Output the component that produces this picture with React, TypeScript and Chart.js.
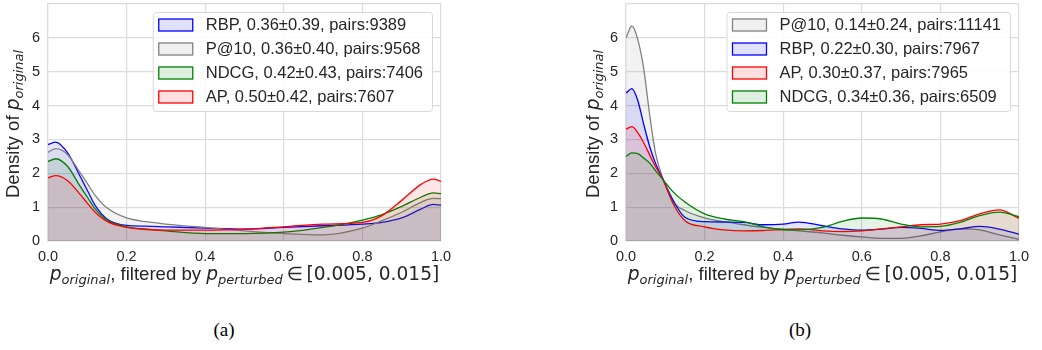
import React, { useEffect, useRef } from 'react';
import { Chart, registerables } from 'chart.js';

Chart.register(...registerables);

// ---- Panel (a): density of p_original, x grid and curve values ----
const X_A = [0, 0.02, 0.05, 0.08, 0.1, 0.12, 0.15, 0.2, 0.25, 0.3, 0.4, 0.5, 0.6, 0.7, 0.8, 0.85, 0.9, 0.95, 0.98, 1.0];
const RBP_A = [2.85, 2.92, 2.6, 1.95, 1.5, 1.05, 0.65, 0.46, 0.44, 0.42, 0.38, 0.35, 0.4, 0.45, 0.5, 0.55, 0.68, 0.95, 1.08, 1.06];
const P10_A = [2.62, 2.73, 2.55, 2.05, 1.7, 1.35, 0.98, 0.68, 0.57, 0.5, 0.4, 0.3, 0.22, 0.18, 0.38, 0.6, 0.85, 1.15, 1.26, 1.25];
const NDCG_A = [2.35, 2.43, 2.2, 1.65, 1.3, 0.95, 0.62, 0.42, 0.35, 0.3, 0.22, 0.22, 0.26, 0.4, 0.62, 0.78, 1.02, 1.3, 1.42, 1.4];
const AP_A = [1.87, 1.93, 1.78, 1.4, 1.12, 0.85, 0.58, 0.4, 0.34, 0.32, 0.32, 0.35, 0.42, 0.5, 0.55, 0.75, 1.2, 1.68, 1.83, 1.76];
const LABELS_A = [
  'RBP, 0.36±0.39, pairs:9389',
  'P@10, 0.36±0.40, pairs:9568',
  'NDCG, 0.42±0.43, pairs:7406',
  'AP, 0.50±0.42, pairs:7607',
];

// ---- Panel (b) ----
const X_B = [0, 0.015, 0.03, 0.045, 0.06, 0.075, 0.095, 0.12, 0.15, 0.2, 0.25, 0.3, 0.35, 0.4, 0.44, 0.5, 0.55, 0.6, 0.65, 0.7, 0.75, 0.8, 0.85, 0.9, 0.95, 1.0];
const P10_B = [6.0, 6.35, 5.95, 5.1, 3.75, 2.6, 1.8, 1.15, 0.9, 0.68, 0.57, 0.48, 0.4, 0.34, 0.3, 0.24, 0.17, 0.12, 0.08, 0.08, 0.15, 0.27, 0.36, 0.33, 0.18, 0.05];
const RBP_B = [4.37, 4.5, 4.15, 3.45, 2.8, 2.3, 1.8, 1.2, 0.7, 0.57, 0.56, 0.55, 0.48, 0.5, 0.56, 0.45, 0.36, 0.32, 0.35, 0.4, 0.37, 0.31, 0.36, 0.43, 0.35, 0.2];
const AP_B = [3.3, 3.38, 3.2, 2.9, 2.55, 2.2, 1.8, 1.1, 0.6, 0.42, 0.33, 0.3, 0.31, 0.34, 0.36, 0.3, 0.28, 0.3, 0.36, 0.42, 0.48, 0.5, 0.6, 0.8, 0.92, 0.67];
const NDCG_B = [2.5, 2.6, 2.58, 2.45, 2.3, 2.08, 1.8, 1.45, 1.15, 0.8, 0.65, 0.57, 0.42, 0.34, 0.33, 0.4, 0.58, 0.68, 0.65, 0.5, 0.42, 0.43, 0.55, 0.75, 0.85, 0.72];
const LABELS_B = [
  'P@10, 0.14±0.24, pairs:11141',
  'RBP, 0.22±0.30, pairs:7967',
  'AP, 0.30±0.37, pairs:7965',
  'NDCG, 0.34±0.36, pairs:6509',
];

const X_MIN = 0;
const X_MAX = 1;
const Y_MAX = 7;

// ---- styling ----
const BLUE = [0, 0, 255];
const GRAY = [128, 128, 128];
const GREEN = [0, 128, 0];
const RED = [255, 0, 0];
const TEXT = '#262626';
const GRID = '#dcdcdc';
const SANS = '"Liberation Sans", Arial, sans-serif';
const MATH = '"DejaVu Sans", sans-serif';
const TITLE_PX = 18.6;
const SUB_PX = 13;

const rgb = (c: number[]) => `rgb(${c[0]},${c[1]},${c[2]})`;
const rgba = (c: number[], a: number) => `rgba(${c[0]},${c[1]},${c[2]},${a})`;

type Series = { label: string; color: number[]; values: number[] };

type Part = { text: string; font: string; dy: number };

function subscripted(prefix: string, base: string, sub: string): Part[] {
  const parts: Part[] = [];
  if (prefix) parts.push({ text: prefix, font: `${TITLE_PX}px ${SANS}`, dy: 0 });
  parts.push({ text: base, font: `italic ${TITLE_PX}px ${MATH}`, dy: 0 });
  parts.push({ text: sub, font: `italic ${SUB_PX}px ${MATH}`, dy: 3.5 });
  return parts;
}

const X_TITLE: Part[] = [
  ...subscripted('', 'p', 'original'),
  { text: ', filtered by ', font: `${TITLE_PX}px ${SANS}`, dy: 0 },
  ...subscripted('', 'p', 'perturbed'),
  { text: '\u2009∈\u2009[0.005, 0.015]', font: `${TITLE_PX}px ${MATH}`, dy: 0 },
];
const Y_TITLE: Part[] = subscripted('Density of ', 'p', 'original');

function drawRich(ctx: CanvasRenderingContext2D, parts: Part[], x: number, y: number, rotate: boolean) {
  ctx.save();
  let total = 0;
  const widths = parts.map((p) => {
    ctx.font = p.font;
    const w = ctx.measureText(p.text).width;
    total += w;
    return w;
  });
  ctx.translate(x, y);
  if (rotate) ctx.rotate(-Math.PI / 2);
  ctx.fillStyle = TEXT;
  ctx.textAlign = 'left';
  ctx.textBaseline = 'alphabetic';
  let cx = -total / 2;
  parts.forEach((p, i) => {
    ctx.font = p.font;
    ctx.fillText(p.text, cx, p.dy);
    cx += widths[i];
  });
  ctx.restore();
}

function makeOverlay(series: Series[], yTitleX: number) {
  return {
    id: 'overlay',
    afterDatasetsDraw(chart: any) {
      const ctx: CanvasRenderingContext2D = chart.ctx;
      const ca = chart.chartArea;
      // legend box, upper right
      ctx.save();
      ctx.font = `16.5px ${SANS}`;
      const textW = Math.max(...series.map((s) => ctx.measureText(s.label).width));
      const boxW = 6 + 34 + 13 + textW + 9;
      const boxR = ca.right - 9;
      const boxL = boxR - boxW;
      const boxT = ca.top + 8;
      const boxH = 99;
      ctx.beginPath();
      ctx.roundRect(boxL + 0.5, boxT + 0.5, boxW, boxH, 3);
      ctx.fillStyle = 'rgba(255,255,255,0.85)';
      ctx.fill();
      ctx.strokeStyle = '#d8d8d8';
      ctx.lineWidth = 1;
      ctx.stroke();
      series.forEach((s, i) => {
        const cy = boxT + 13 + i * 24;
        ctx.fillStyle = rgba(s.color, 0.12);
        ctx.fillRect(boxL + 6, cy - 6, 34, 12);
        ctx.strokeStyle = rgb(s.color);
        ctx.lineWidth = 1.3;
        ctx.strokeRect(boxL + 6, cy - 6, 34, 12);
        ctx.fillStyle = TEXT;
        ctx.textBaseline = 'middle';
        ctx.textAlign = 'left';
        ctx.fillText(s.label, boxL + 53, cy + 0.5);
      });
      ctx.restore();
      // axis titles
      drawRich(ctx, X_TITLE, (ca.left + ca.right) / 2, 280, false);
      drawRich(ctx, Y_TITLE, yTitleX, (ca.top + ca.bottom) / 2 + 1.5, true);
    },
  };
}

function DensityPanel({ xs, series, left, yTitleX }: { xs: number[]; series: Series[]; left: number; yTitleX: number }) {
  const ref = useRef<HTMLCanvasElement>(null);
  useEffect(() => {
    if (!ref.current) return;
    const n = series.length;
    const chart = new Chart(ref.current, {
      type: 'line',
      data: {
        datasets: series.map((s, i) => ({
          label: s.label,
          data: xs.map((x, j) => ({ x, y: s.values[j] })),
          borderColor: rgb(s.color),
          backgroundColor: rgba(s.color, 0.1),
          borderWidth: 1.3,
          pointRadius: 0,
          fill: 'origin',
          cubicInterpolationMode: 'monotone',
          order: n - 1 - i,
        })),
      },
      options: {
        responsive: false,
        animation: false,
        layout: { autoPadding: false, padding: { left: 0, right: 23, top: 4, bottom: 0 } },
        plugins: { legend: { display: false }, tooltip: { enabled: false } },
        scales: {
          x: {
            type: 'linear',
            min: X_MIN,
            max: X_MAX,
            grid: { color: GRID, lineWidth: 1.2, drawTicks: false },
            border: { color: GRID, width: 1.2 },
            ticks: {
              stepSize: 0.2,
              padding: 7,
              color: TEXT,
              font: { family: SANS, size: 14.5 },
              callback: (v: any) => Number(v).toFixed(1),
            },
            afterFit: (s: any) => {
              s.height = 59;
              s.paddingLeft = 0;
              s.paddingRight = 0;
            },
          },
          y: {
            min: 0,
            max: Y_MAX,
            grid: { color: GRID, lineWidth: 1.2, drawTicks: false },
            border: { color: GRID, width: 1.2 },
            ticks: {
              stepSize: 1,
              padding: 8,
              color: TEXT,
              font: { family: SANS, size: 14.5 },
              callback: (v: any) => (Number(v) === Y_MAX ? '' : String(v)),
            },
            afterFit: (s: any) => {
              s.width = 48;
              s.paddingTop = 0;
              s.paddingBottom = 0;
            },
          },
        },
      },
      plugins: [makeOverlay(series, yTitleX)],
    } as any);
    return () => chart.destroy();
  }, [xs, series, yTitleX]);
  return (
    <canvas
      ref={ref}
      width={464}
      height={300}
      style={{ position: 'absolute', left, top: 0, width: 464, height: 300 }}
    />
  );
}

const SERIES_A: Series[] = [
  { label: LABELS_A[0], color: BLUE, values: RBP_A },
  { label: LABELS_A[1], color: GRAY, values: P10_A },
  { label: LABELS_A[2], color: GREEN, values: NDCG_A },
  { label: LABELS_A[3], color: RED, values: AP_A },
];
const SERIES_B: Series[] = [
  { label: LABELS_B[0], color: GRAY, values: P10_B },
  { label: LABELS_B[1], color: BLUE, values: RBP_B },
  { label: LABELS_B[2], color: RED, values: AP_B },
  { label: LABELS_B[3], color: GREEN, values: NDCG_B },
];

const captionStyle = (center: number): React.CSSProperties => ({
  position: 'absolute',
  left: center - 40,
  width: 80,
  top: 320,
  lineHeight: '20px',
  textAlign: 'center',
  fontFamily: '"Liberation Serif", "Times New Roman", serif',
  fontSize: 19,
  color: '#000',
});

export default function App() {
  return (
    <div style={{ position: 'absolute', left: 0, top: 0, width: 1042, height: 350, background: '#fff', overflow: 'hidden' }}>
      <DensityPanel xs={X_A} series={SERIES_A} left={0} yTitleX={19} />
      <DensityPanel xs={X_B} series={SERIES_B} left={578} yTitleX={21} />
      <div style={captionStyle(224)}>(a)</div>
      <div style={captionStyle(800)}>(b)</div>
    </div>
  );
}
